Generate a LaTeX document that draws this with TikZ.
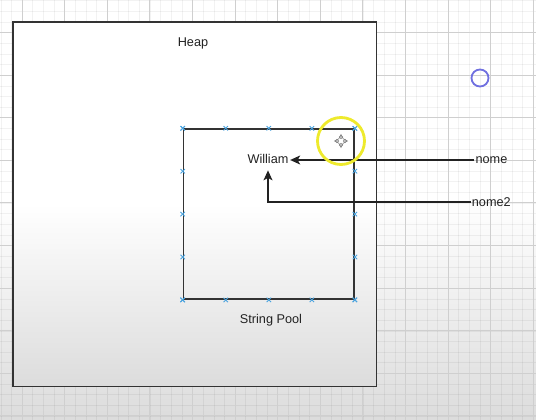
\documentclass[tikz,border=0pt]{standalone}
\usepackage{fontspec}
\setmainfont{Liberation Sans}
\usetikzlibrary{arrows.meta,calc}
\definecolor{gridmaj}{HTML}{CFCFCF}
\definecolor{gridmin}{HTML}{000000}
\definecolor{bgbot}{HTML}{DCDCDC}
\definecolor{boxline}{HTML}{333333}
\definecolor{txt}{HTML}{222222}
\definecolor{handlec}{HTML}{4AA3DF}
\definecolor{hilite}{HTML}{EEEA2C}
\definecolor{ptr}{HTML}{7070E0}
\tikzset{
  heapbox/.style={draw=boxline, line width=1.8pt, inner sep=0pt,
    top color=white, bottom color=bgbot, middle color=white},
  poolbox/.style={draw=boxline, line width=1.6pt, inner sep=0pt},
  lbl/.style={text=txt, font=\fontsize{12.7}{15}\selectfont, inner sep=1.5pt},
  arr/.style={draw=txt, line width=1.3pt, -{Stealth[length=10pt,width=9pt,inset=2.5pt]}},
  handle/.style={draw=handlec, line width=0.9pt},
  minorgrid/.style={draw=gridmin, draw opacity=0.05, line width=0.4pt},
  majorgrid/.style={draw=gridmaj, line width=1pt}
}
\begin{document}
\begin{tikzpicture}[x=1pt,y=-1pt]
\useasboundingbox (0,0) rectangle (536,420);
\fill[white] (0,0) rectangle (536,420);
\shade[top color=white, bottom color=bgbot] (0,200) rectangle (536,420);
% grid
\foreach \i in {0,...,50} \draw[minorgrid] ({0.7+10.65*\i},0) -- ({0.7+10.65*\i},420);
\foreach \j in {0,...,39} \draw[minorgrid] (0,{0.55+10.65*\j}) -- (536,{0.55+10.65*\j});
\foreach \i in {0,...,12} \draw[majorgrid] ({22+42.6*\i},0) -- ({22+42.6*\i},420);
\foreach \j in {0,...,9} \draw[majorgrid] (0,{32.5+42.6*\j}) -- (536,{32.5+42.6*\j});
% heap
\node[heapbox, minimum width=363.5pt, minimum height=364pt, anchor=north west] (heap) at (12,21.5) {};
\node[lbl] (heaplbl) at (193,43.4) {Heap};
% string pool
\node[poolbox, minimum width=170.6pt, minimum height=170pt, anchor=north west] (pool) at (182.7,128.3) {};
\node[lbl] (poollbl) at (271,320) {String Pool};
\foreach \t in {0,0.25,0.5,0.75,1}{
  \foreach \a/\b in {north west/north east, south west/south east, north west/south west, north east/south east}{
    \coordinate (h) at ($(pool.\a)!\t!(pool.\b)$);
    \draw[handle] ($(h)+(-2.2,-2.2)$) -- ($(h)+(2.2,2.2)$);
    \draw[handle] ($(h)+(-2.2,2.2)$) -- ($(h)+(2.2,-2.2)$);
  }
}
% texts
\node[lbl] (william) at (268,159) {William};
\node[lbl, inner sep=1pt] (nome) at (491.5,160) {nome};
\node[lbl, inner sep=0.5pt] (nome2) at (491.3,202) {nome2};
% connectors
\draw[arr] (nome.west) -- (william.east |- nome.west);
\draw[arr, shorten >=5pt] (nome2.west) -| (william.south);
% highlight circle and move cursor
\coordinate (mv) at (341,141);
\draw[hilite, line width=2.8pt] (mv) circle (23.5);
\foreach \a in {0,90,180,270}{
  \draw[gray, line width=0.6pt, rotate around={\a:(mv)}] ($(mv)+(2.2,-2.2)$) -- ($(mv)+(6.5,0)$) -- ($(mv)+(2.2,2.2)$);
  \draw[gray, line width=0.6pt, rotate around={\a:(mv)}] ($(mv)+(4,0)$) circle (1.6);
}
% pointer circle
\draw[ptr, line width=1.8pt] (480,78) circle (8.5);
\end{tikzpicture}
\end{document}
